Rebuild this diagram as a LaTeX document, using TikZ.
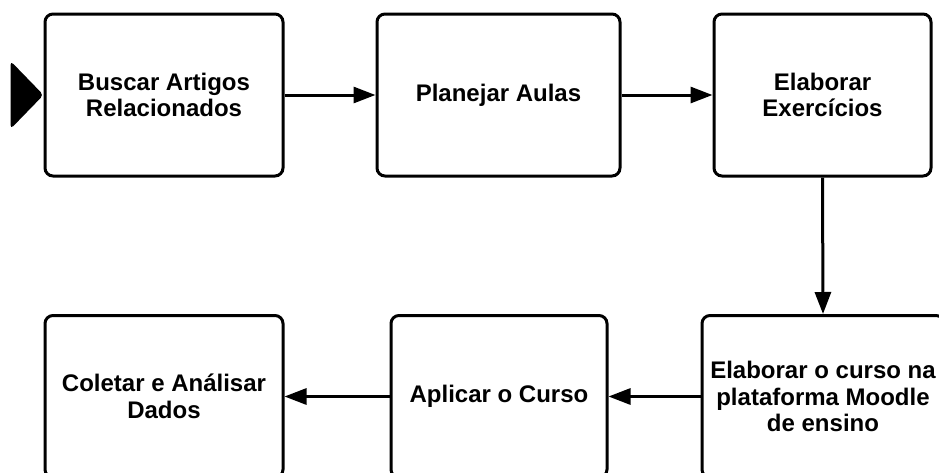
\documentclass[tikz,border=0pt]{standalone}
\usepackage{fontspec}
\setmainfont{Liberation Sans}
\usepackage{tikz}
\usetikzlibrary{positioning,arrows.meta}

\tikzset{
  etapa/.style={draw, line width=2.25pt, rounded corners=6pt, align=center,
    font=\bfseries\fontsize{18}{20}\selectfont, minimum height=121.5pt},
  seta/.style={line width=2.25pt, -{Triangle[length=16.5pt,width=12pt]}}
}

\begin{document}
\begin{tikzpicture}[x=0.75pt,y=0.75pt,yscale=-1,xscale=1]
\useasboundingbox (0,0) rectangle (939,472);
\clip (0,0) rectangle (939,472);

% Top row
\node [etapa, minimum width=178.5pt] (buscar) at (164,95) {Buscar Artigos\\Relacionados};
\node [etapa, minimum width=182.25pt] (planejar) at (498.5,95) {Planejar Aulas};
\node [etapa, minimum width=162.75pt] (exercicios) at (822.5,95) {Elaborar\\Exercícios};

% Bottom row
\node [etapa, minimum width=181.5pt] (moodle) at (823,396.5) {Elaborar o curso na\\plataforma Moodle\\de ensino};
\node [etapa, minimum width=162pt] (aplicar) at (499,396.5) {Aplicar o Curso};
\node [etapa, minimum width=178.5pt] (coletar) at (164,396.5) {Coletar e Análisar\\Dados};

% start marker
\fill [rounded corners=3pt] (buscar.west) -- ++(-33,-34) -- ++(0,68) -- cycle;

% Arrows
\draw [seta] (buscar) -- (planejar);
\draw [seta] (planejar) -- (exercicios);
\draw [seta] (exercicios.south) -- (moodle.north);
\draw [seta] (moodle) -- (aplicar);
\draw [seta] (aplicar) -- (coletar);
\end{tikzpicture}
\end{document}
